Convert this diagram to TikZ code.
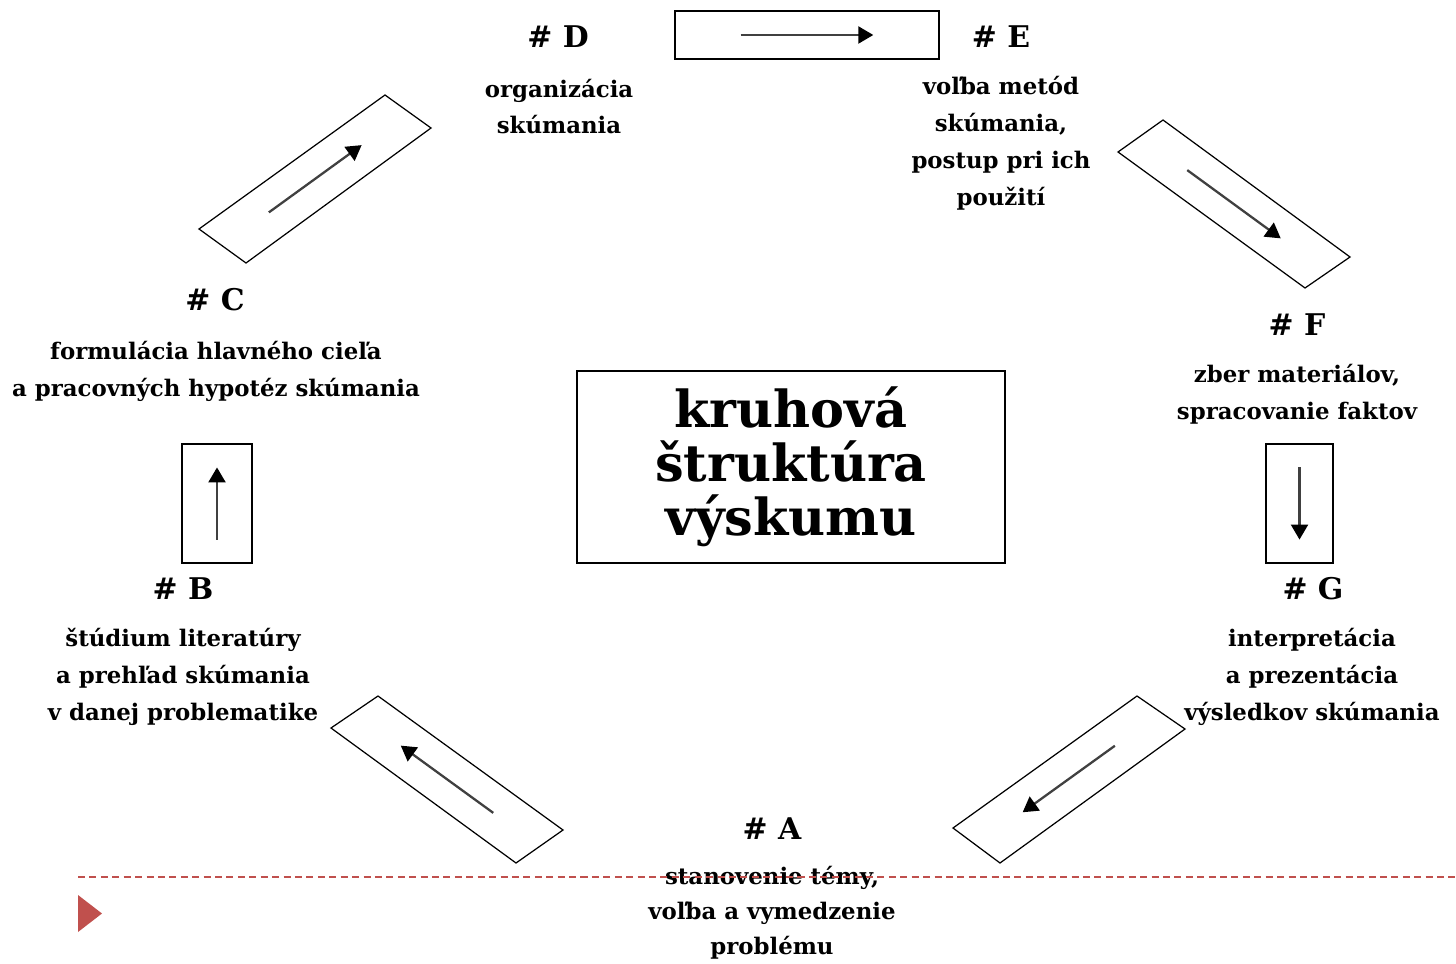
\documentclass[tikz,border=0pt]{standalone}
\usepackage{fontspec}
\setmainfont{DejaVu Serif}
\usepackage{xcolor}
\usetikzlibrary{arrows.meta, calc, positioning}

\definecolor{slidered}{HTML}{C0504D}

\tikzset{
  phase label/.style={font=\fontsize{17}{20}\selectfont\bfseries},
  phase text/.style={align=center, font=\fontsize{13}{21}\selectfont\bfseries},
  arrow box/.style={draw, line width=0.7pt, inner sep=0pt},
  flow/.style={draw=black!75, line width=1.3pt, -{Triangle[length=0.3cm, width=0.34cm, color=black]}}
}

\begin{document}
\begin{tikzpicture}[x=0.02cm, y=-0.02cm]
  \useasboundingbox (0,0) rectangle (1456,963);

  % middle
  \node[draw, line width=0.9pt, minimum width=8.56cm, minimum height=3.84cm, align=center,
        font=\fontsize{29}{30.6}\selectfont\bfseries] (title) at (791,467) {kruhová\\štruktúra\\výskumu};

  % phases
  \node[phase label] (a) at (772,829) {\# A};
  \node[phase text, font=\fontsize{13}{20}\selectfont\bfseries] (atxt) at (772,913) {stanovenie témy,\\voľba a vymedzenie\\problému};

  \node[phase label] (b) at (183,589) {\# B};
  \node[phase text] (btxt) at (183,677) {štúdium literatúry\\a prehľad skúmania\\v danej problematike};

  \node[phase label] (c) at (215,300) {\# C};
  \node[phase text] (ctxt) at (216,371.5) {formulácia hlavného cieľa\\a pracovných hypotéz skúmania};

  \node[phase label] (d) at (558,37) {\# D};
  \node[phase text] (dtxt) at (559,106.5) {organizácia\\skúmania};

  \node[phase label] (e) at (1001,37) {\# E};
  \node[phase text] (etxt) at (1001,143) {voľba metód\\skúmania,\\postup pri ich\\použití};

  \node[phase label] (f) at (1297,325) {\# F};
  \node[phase text] (ftxt) at (1297,394.5) {zber materiálov,\\spracovanie faktov};

  \node[phase label] (g) at (1313,589) {\# G};
  \node[phase text] (gtxt) at (1312,677) {interpretácia\\a prezentácia\\výsledkov skúmania};

  % straight arrow boxes
  \node[arrow box, minimum width=5.28cm, minimum height=0.96cm] (de) at (807,35) {};
  \node[arrow box, minimum width=1.34cm, minimum height=2.38cm] (fg) at (1299.5,503.5) {};
  \node[arrow box, minimum width=1.40cm, minimum height=2.38cm] (bc) at (217,503.5) {};

  \draw[flow] ($(de.center)!0.5!(de.west)$) -- ($(de.center)!0.5!(de.east)$);
  \draw[flow] ($(fg.center)!0.6!(fg.north)$) -- ($(fg.center)!0.6!(fg.south)$);
  \draw[flow] ($(bc.center)!0.6!(bc.south)$) -- ($(bc.center)!0.6!(bc.north)$);

  % slanted arrow boxes
  \coordinate (cd l) at (199,229);  \coordinate (cd t) at (385,95);
  \coordinate (cd r) at (431,128);  \coordinate (cd b) at (246,263);
  \coordinate (ef l) at (1118,152); \coordinate (ef t) at (1163,120);
  \coordinate (ef r) at (1350,257); \coordinate (ef b) at (1305,288);
  \coordinate (ga l) at (953,828);  \coordinate (ga t) at (1137,696);
  \coordinate (ga r) at (1185,729); \coordinate (ga b) at (1000,863);
  \coordinate (ab l) at (331,728);  \coordinate (ab t) at (378,696);
  \coordinate (ab r) at (563,830);  \coordinate (ab b) at (516,863);

  \draw[arrow box] (cd l) -- (cd t) -- (cd r) -- (cd b) -- cycle;
  \draw[arrow box] (ef l) -- (ef t) -- (ef r) -- (ef b) -- cycle;
  \draw[arrow box] (ga l) -- (ga t) -- (ga r) -- (ga b) -- cycle;
  \draw[arrow box] (ab l) -- (ab t) -- (ab r) -- (ab b) -- cycle;

  \coordinate (cd in) at ($(cd l)!0.5!(cd b)$);  \coordinate (cd out) at ($(cd t)!0.5!(cd r)$);
  \coordinate (ef in) at ($(ef l)!0.5!(ef t)$);  \coordinate (ef out) at ($(ef b)!0.5!(ef r)$);
  \coordinate (ga in) at ($(ga t)!0.5!(ga r)$);  \coordinate (ga out) at ($(ga l)!0.5!(ga b)$);
  \coordinate (ab in) at ($(ab r)!0.5!(ab b)$);  \coordinate (ab out) at ($(ab l)!0.5!(ab t)$);

  \draw[flow] ($(cd in)!0.25!(cd out)$) -- ($(cd in)!0.75!(cd out)$);
  \draw[flow] ($(ef in)!0.25!(ef out)$) -- ($(ef in)!0.75!(ef out)$);
  \draw[flow] ($(ga in)!0.25!(ga out)$) -- ($(ga in)!0.75!(ga out)$);
  \draw[flow] ($(ab in)!0.25!(ab out)$) -- ($(ab in)!0.75!(ab out)$);

  % slide marks
  \coordinate (rule start) at (78,877);
  \coordinate (rule end) at (1456,877);
  \draw[slidered, line width=0.9pt, dash pattern=on 4pt off 2.5pt] (rule start) -- (rule end);
  \fill[slidered] (78,895) -- (102,913.5) -- (78,932) -- cycle;
\end{tikzpicture}
\end{document}
